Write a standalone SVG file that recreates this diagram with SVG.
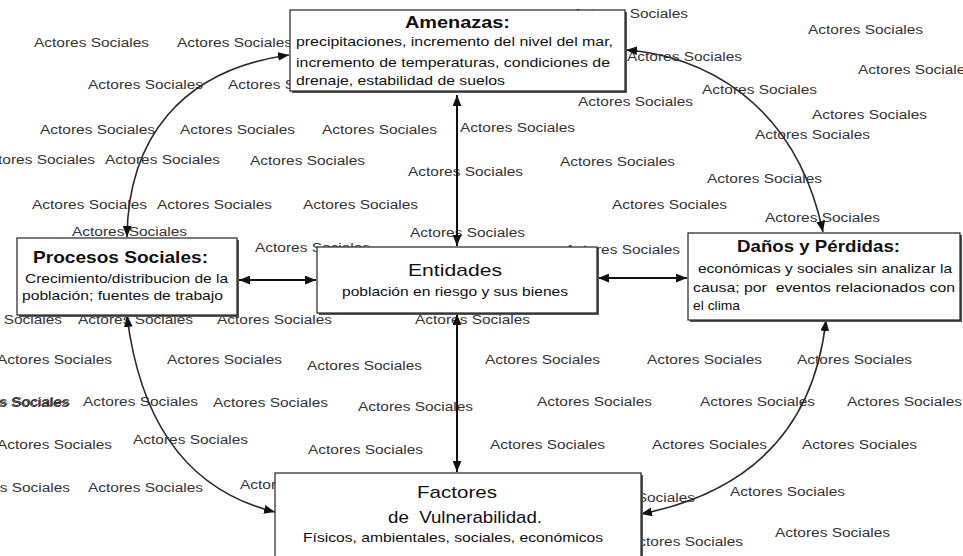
<svg xmlns="http://www.w3.org/2000/svg" width="963" height="556" viewBox="0 0 963 556">
<style>
.lab{font-family:"Liberation Sans",Arial,sans-serif;font-size:12px;fill:#333}
.t{font-family:"Liberation Sans",Arial,sans-serif;font-size:13px;fill:#111}
.h{font-family:"Liberation Sans",Arial,sans-serif;font-size:17px;font-weight:bold;fill:#111}
.hn{font-family:"Liberation Sans",Arial,sans-serif;font-size:17px;fill:#111}
.box{fill:#fff;stroke:#222;stroke-width:1.2}
.sh{fill:#555}
.con{fill:none;stroke:#2a2a2a;stroke-width:1.6}
.str{fill:none;stroke:#111;stroke-width:2}
</style>
<defs>
<marker id="arr" viewBox="0 0 10 8" refX="10" refY="4" markerWidth="11" markerHeight="9" markerUnits="userSpaceOnUse" orient="auto-start-reverse">
<path d="M0,0 L10,4 L0,8 z" fill="#111"/>
</marker>
</defs>
<g id="labels">
<text class="lab" x="573" y="18" textLength="115" lengthAdjust="spacingAndGlyphs">Actores Sociales</text>
<text class="lab" x="808" y="34" textLength="115" lengthAdjust="spacingAndGlyphs">Actores Sociales</text>
<text class="lab" x="34" y="47" textLength="115" lengthAdjust="spacingAndGlyphs">Actores Sociales</text>
<text class="lab" x="177" y="47" textLength="115" lengthAdjust="spacingAndGlyphs">Actores Sociales</text>
<text class="lab" x="627" y="61" textLength="115" lengthAdjust="spacingAndGlyphs">Actores Sociales</text>
<text class="lab" x="858" y="74" textLength="115" lengthAdjust="spacingAndGlyphs">Actores Sociales</text>
<text class="lab" x="88" y="89" textLength="115" lengthAdjust="spacingAndGlyphs">Actores Sociales</text>
<text class="lab" x="228" y="89" textLength="115" lengthAdjust="spacingAndGlyphs">Actores Sociales</text>
<text class="lab" x="702" y="94" textLength="115" lengthAdjust="spacingAndGlyphs">Actores Sociales</text>
<text class="lab" x="578" y="106" textLength="115" lengthAdjust="spacingAndGlyphs">Actores Sociales</text>
<text class="lab" x="812" y="119" textLength="115" lengthAdjust="spacingAndGlyphs">Actores Sociales</text>
<text class="lab" x="40" y="134" textLength="115" lengthAdjust="spacingAndGlyphs">Actores Sociales</text>
<text class="lab" x="180" y="134" textLength="115" lengthAdjust="spacingAndGlyphs">Actores Sociales</text>
<text class="lab" x="322" y="134" textLength="115" lengthAdjust="spacingAndGlyphs">Actores Sociales</text>
<text class="lab" x="460" y="132" textLength="115" lengthAdjust="spacingAndGlyphs">Actores Sociales</text>
<text class="lab" x="755" y="139" textLength="115" lengthAdjust="spacingAndGlyphs">Actores Sociales</text>
<text class="lab" x="-20" y="164" textLength="115" lengthAdjust="spacingAndGlyphs">Actores Sociales</text>
<text class="lab" x="105" y="164" textLength="115" lengthAdjust="spacingAndGlyphs">Actores Sociales</text>
<text class="lab" x="250" y="165" textLength="115" lengthAdjust="spacingAndGlyphs">Actores Sociales</text>
<text class="lab" x="560" y="166" textLength="115" lengthAdjust="spacingAndGlyphs">Actores Sociales</text>
<text class="lab" x="408" y="176" textLength="115" lengthAdjust="spacingAndGlyphs">Actores Sociales</text>
<text class="lab" x="707" y="183" textLength="115" lengthAdjust="spacingAndGlyphs">Actores Sociales</text>
<text class="lab" x="32" y="209" textLength="115" lengthAdjust="spacingAndGlyphs">Actores Sociales</text>
<text class="lab" x="157" y="209" textLength="115" lengthAdjust="spacingAndGlyphs">Actores Sociales</text>
<text class="lab" x="303" y="209" textLength="115" lengthAdjust="spacingAndGlyphs">Actores Sociales</text>
<text class="lab" x="612" y="209" textLength="115" lengthAdjust="spacingAndGlyphs">Actores Sociales</text>
<text class="lab" x="765" y="222" textLength="115" lengthAdjust="spacingAndGlyphs">Actores Sociales</text>
<text class="lab" x="72" y="236" textLength="115" lengthAdjust="spacingAndGlyphs">Actores Sociales</text>
<text class="lab" x="410" y="237" textLength="115" lengthAdjust="spacingAndGlyphs">Actores Sociales</text>
<text class="lab" x="255" y="252" textLength="115" lengthAdjust="spacingAndGlyphs">Actores Sociales</text>
<text class="lab" x="565" y="254" textLength="115" lengthAdjust="spacingAndGlyphs">Actores Sociales</text>
<text class="lab" x="-53" y="324" textLength="115" lengthAdjust="spacingAndGlyphs">Actores Sociales</text>
<text class="lab" x="78" y="324" textLength="115" lengthAdjust="spacingAndGlyphs">Actores Sociales</text>
<text class="lab" x="217" y="324" textLength="115" lengthAdjust="spacingAndGlyphs">Actores Sociales</text>
<text class="lab" x="415" y="324" textLength="115" lengthAdjust="spacingAndGlyphs">Actores Sociales</text>
<text class="lab" x="-3" y="364" textLength="115" lengthAdjust="spacingAndGlyphs">Actores Sociales</text>
<text class="lab" x="167" y="364" textLength="115" lengthAdjust="spacingAndGlyphs">Actores Sociales</text>
<text class="lab" x="307" y="370" textLength="115" lengthAdjust="spacingAndGlyphs">Actores Sociales</text>
<text class="lab" x="485" y="364" textLength="115" lengthAdjust="spacingAndGlyphs">Actores Sociales</text>
<text class="lab" x="647" y="364" textLength="115" lengthAdjust="spacingAndGlyphs">Actores Sociales</text>
<text class="lab" x="797" y="364" textLength="115" lengthAdjust="spacingAndGlyphs">Actores Sociales</text>
<text class="lab" x="-46" y="407" textLength="115" lengthAdjust="spacingAndGlyphs">Actores Sociales</text>
<text class="lab" x="-45" y="406" textLength="115" lengthAdjust="spacingAndGlyphs">Actores Sociales</text>
<text class="lab" x="83" y="406" textLength="115" lengthAdjust="spacingAndGlyphs">Actores Sociales</text>
<text class="lab" x="213" y="407" textLength="115" lengthAdjust="spacingAndGlyphs">Actores Sociales</text>
<text class="lab" x="358" y="411" textLength="115" lengthAdjust="spacingAndGlyphs">Actores Sociales</text>
<text class="lab" x="537" y="406" textLength="115" lengthAdjust="spacingAndGlyphs">Actores Sociales</text>
<text class="lab" x="700" y="406" textLength="115" lengthAdjust="spacingAndGlyphs">Actores Sociales</text>
<text class="lab" x="847" y="406" textLength="115" lengthAdjust="spacingAndGlyphs">Actores Sociales</text>
<text class="lab" x="-3" y="449" textLength="115" lengthAdjust="spacingAndGlyphs">Actores Sociales</text>
<text class="lab" x="133" y="444" textLength="115" lengthAdjust="spacingAndGlyphs">Actores Sociales</text>
<text class="lab" x="308" y="454" textLength="115" lengthAdjust="spacingAndGlyphs">Actores Sociales</text>
<text class="lab" x="490" y="449" textLength="115" lengthAdjust="spacingAndGlyphs">Actores Sociales</text>
<text class="lab" x="652" y="449" textLength="115" lengthAdjust="spacingAndGlyphs">Actores Sociales</text>
<text class="lab" x="802" y="449" textLength="115" lengthAdjust="spacingAndGlyphs">Actores Sociales</text>
<text class="lab" x="-45" y="492" textLength="115" lengthAdjust="spacingAndGlyphs">Actores Sociales</text>
<text class="lab" x="88" y="492" textLength="115" lengthAdjust="spacingAndGlyphs">Actores Sociales</text>
<text class="lab" x="240" y="489" textLength="115" lengthAdjust="spacingAndGlyphs">Actores Sociales</text>
<text class="lab" x="580" y="502" textLength="115" lengthAdjust="spacingAndGlyphs">Actores Sociales</text>
<text class="lab" x="730" y="496" textLength="115" lengthAdjust="spacingAndGlyphs">Actores Sociales</text>
<text class="lab" x="628" y="546" textLength="115" lengthAdjust="spacingAndGlyphs">Actores Sociales</text>
<text class="lab" x="775" y="537" textLength="115" lengthAdjust="spacingAndGlyphs">Actores Sociales</text>
</g>
<g id="connectors">
<path class="str" d="M457,95 L457,246" marker-start="url(#arr)" marker-end="url(#arr)"/>
<path class="str" d="M457,314 L457,472" marker-start="url(#arr)" marker-end="url(#arr)"/>
<path class="str" d="M239,280 L316,280" marker-start="url(#arr)" marker-end="url(#arr)"/>
<path class="str" d="M598,278 L687,278" marker-start="url(#arr)" marker-end="url(#arr)"/>
<path class="con" d="M127,237 C128,140 180,70 289,55" marker-start="url(#arr)" marker-end="url(#arr)"/>
<path class="con" d="M626,50 C700,55 795,100 823,232" marker-start="url(#arr)" marker-end="url(#arr)"/>
<path class="con" d="M127,316 C140,420 185,490 275,512" marker-start="url(#arr)" marker-end="url(#arr)"/>
<path class="con" d="M826,320 C815,420 760,490 641,514" marker-start="url(#arr)" marker-end="url(#arr)"/>
</g>
<g id="amenazas">
<rect class="sh" x="292" y="12" width="335" height="81"/>
<rect class="box" x="290" y="10" width="335" height="81"/>
<text class="h" x="405" y="28" textLength="105" lengthAdjust="spacingAndGlyphs">Amenazas:</text>
<text class="t" x="296" y="46" textLength="317" lengthAdjust="spacingAndGlyphs">precipitaciones, incremento del nivel del mar,</text>
<text class="t" x="296" y="67" textLength="314" lengthAdjust="spacingAndGlyphs">incremento de temperaturas, condiciones de</text>
<text class="t" x="296" y="85" textLength="209" lengthAdjust="spacingAndGlyphs">drenaje, estabilidad de suelos</text>
</g>
<g id="procesos">
<rect class="sh" x="19" y="240" width="220" height="77"/>
<rect class="box" x="17" y="238" width="220" height="77"/>
<text class="h" x="33" y="263" textLength="175" lengthAdjust="spacingAndGlyphs">Procesos Sociales:</text>
<text class="t" x="25" y="283" textLength="203" lengthAdjust="spacingAndGlyphs">Crecimiento/distribucion de la</text>
<text class="t" x="22" y="300" textLength="201" lengthAdjust="spacingAndGlyphs">población; fuentes de trabajo</text>
</g>
<g id="entidades">
<rect class="sh" x="319" y="249" width="280" height="66"/>
<rect class="box" x="317" y="247" width="280" height="66"/>
<text class="hn" x="408" y="276" textLength="94" lengthAdjust="spacingAndGlyphs">Entidades</text>
<text class="t" x="342" y="296" textLength="226" lengthAdjust="spacingAndGlyphs">población en riesgo y sus bienes</text>
</g>
<g id="danos">
<rect class="sh" x="690" y="235" width="272" height="87"/>
<rect class="box" x="688" y="233" width="272" height="87"/>
<text class="h" x="737" y="252" textLength="163" lengthAdjust="spacingAndGlyphs">Daños y Pérdidas:</text>
<text class="t" x="698" y="273" textLength="254" lengthAdjust="spacingAndGlyphs">económicas y sociales sin analizar la</text>
<text class="t" x="693" y="292" textLength="262" lengthAdjust="spacingAndGlyphs" style="white-space:pre">causa; por  eventos relacionados con</text>
<text class="t" x="693" y="310" textLength="47" lengthAdjust="spacingAndGlyphs">el clima</text>
</g>
<g id="factores">
<rect class="sh" x="277" y="475" width="366" height="90"/>
<rect class="box" x="275" y="473" width="366" height="90"/>
<text class="hn" x="417" y="498" font-size="16" textLength="80" lengthAdjust="spacingAndGlyphs">Factores</text>
<text class="hn" x="388" y="523" font-size="16" textLength="154" lengthAdjust="spacingAndGlyphs" style="white-space:pre">de  Vulnerabilidad.</text>
<text class="t" x="303" y="542" textLength="300" lengthAdjust="spacingAndGlyphs">Físicos, ambientales, sociales, económicos</text>
</g>
</svg>
